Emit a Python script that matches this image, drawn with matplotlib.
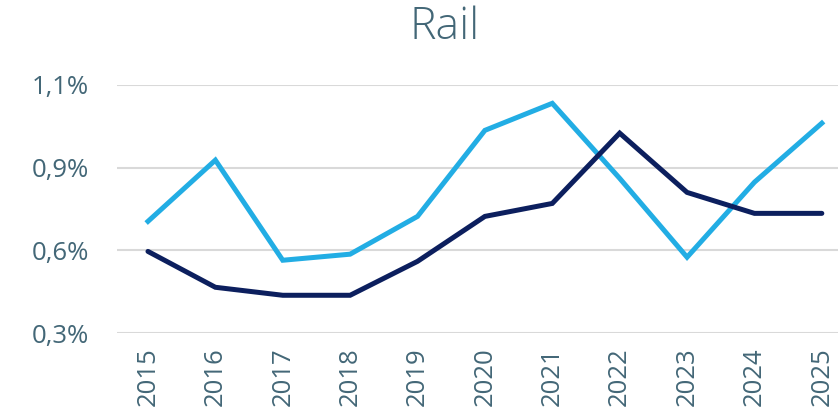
import matplotlib.pyplot as plt
from matplotlib.ticker import FixedLocator, FixedFormatter

years = ["2015", "2016", "2017", "2018", "2019", "2020", "2021", "2022", "2023", "2024", "2025"]
light_series = [0.705, 0.927, 0.564, 0.586, 0.723, 1.035, 1.133, 0.861, 0.575, 0.847, 1.061]
dark_series = [0.596, 0.466, 0.437, 0.437, 0.560, 0.723, 0.770, 1.025, 0.810, 0.734, 0.734]
y_ticks = [0.3, 0.6, 0.9, 1.2]
y_labels = ["0,3%", "0,6%", "0,9%", "1,1%"]

text_col = "#436777"
plt.rcParams['font.family'] = ['Open Sans', 'DejaVu Sans']

fig = plt.figure(figsize=(8.38, 4.2), dpi=100)
ax = fig.add_axes([0.1396, 0.207, 0.8604, 0.591])

x = list(range(len(years)))
ax.plot(x, light_series, color="#22ade4", lw=3.6, solid_joinstyle="miter", zorder=3)
ax.plot(x, dark_series, color="#0c1f5e", lw=3.6, solid_joinstyle="miter",
        solid_capstyle="round", zorder=4)

# category spacing is a bit wider than the visible plot area
ax.set_xlim(-0.46, 10.24)
ax.set_ylim(0.3, 1.2)
ax.set_xticks(x)
ax.set_xticklabels(years, rotation=90)
ax.yaxis.set_major_locator(FixedLocator(y_ticks))
ax.yaxis.set_major_formatter(FixedFormatter(y_labels))
ax.tick_params(axis='both', length=0, labelsize=18.5, colors=text_col)
ax.tick_params(axis='y', pad=20)
ax.tick_params(axis='x', pad=10)
ax.grid(axis='y', color="#d9d9d9", lw=1.5)
ax.set_axisbelow(True)
for s in ax.spines.values():
    s.set_visible(False)

fig.text(0.531, 0.935, "Rail", ha='center', va='center', fontsize=32,
         color=text_col, fontweight='light')

fig.savefig("out.png", dpi=100)
